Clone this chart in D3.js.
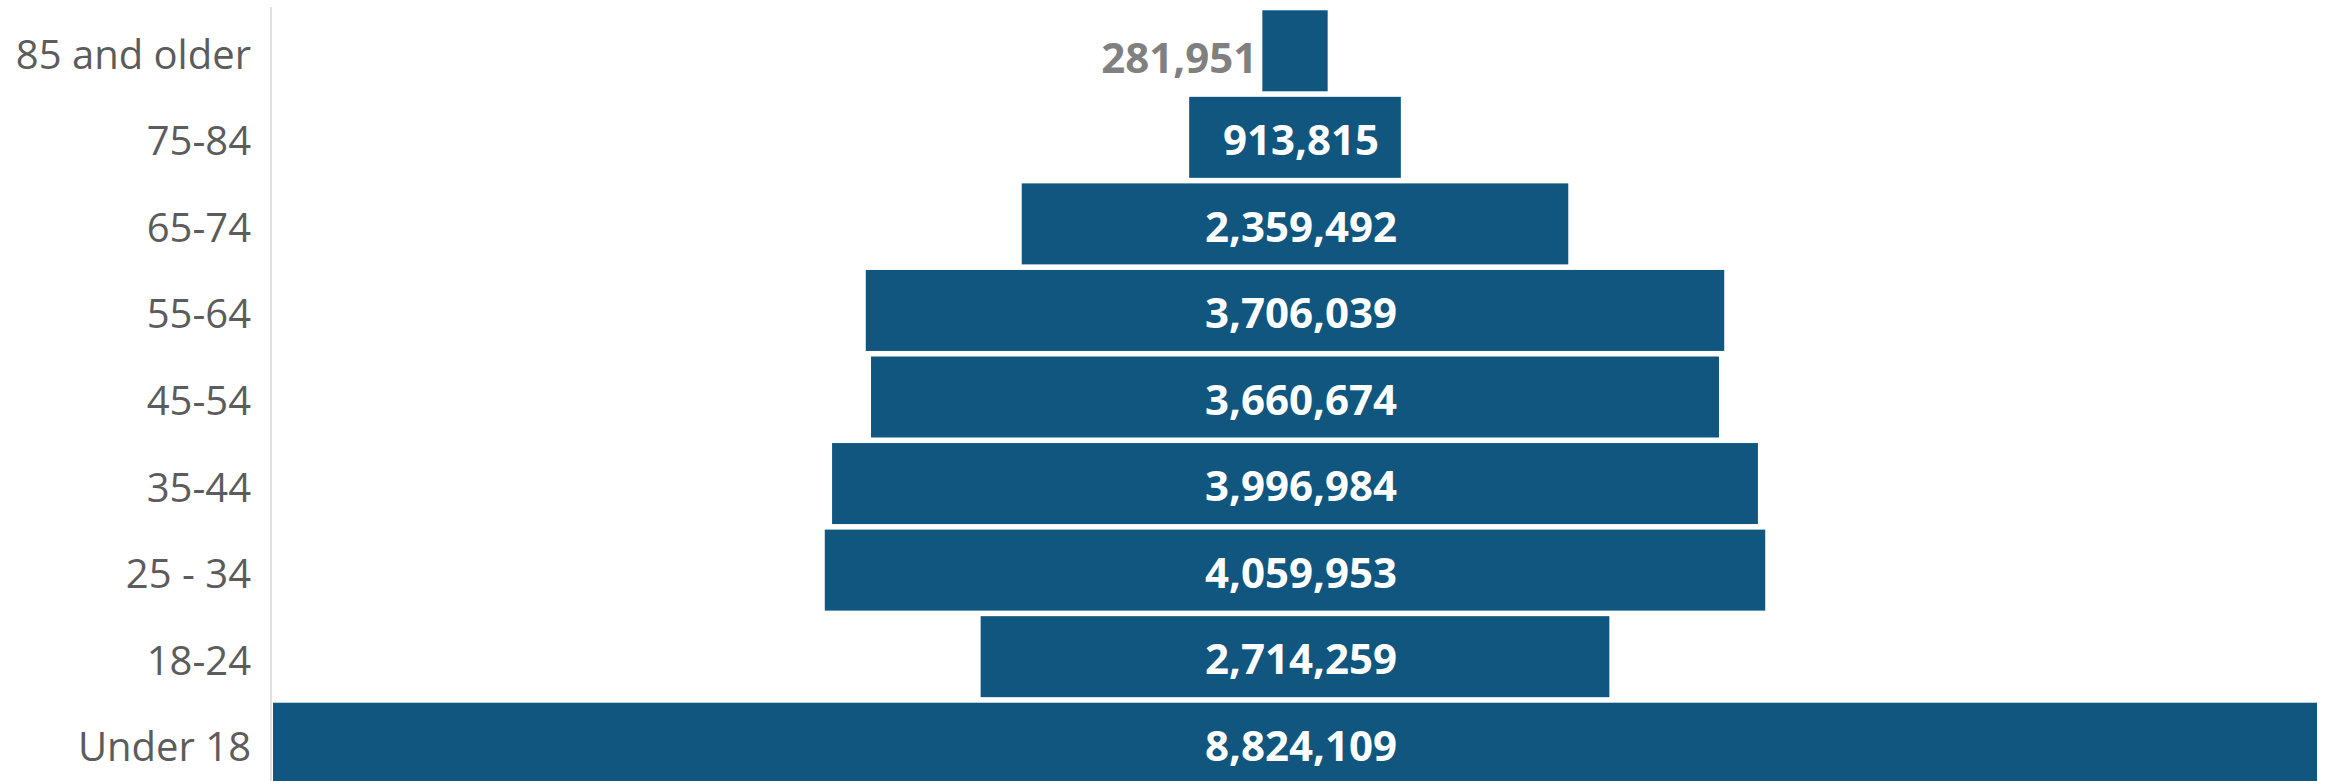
<!DOCTYPE html>
<html>
<head>
<meta charset="utf-8">
<script src="https://cdn.jsdelivr.net/npm/d3@7"></script>
<style>
  html, body { margin: 0; padding: 0; background: #ffffff; overflow: hidden; }
  svg { display: block; }
</style>
</head>
<body>
<svg id="chart" width="2328" height="781"></svg>
<script>
const categories = ["85 and older", "75-84", "65-74", "55-64", "45-54", "35-44", "25 - 34", "18-24", "Under 18"];
const values = [281951, 913815, 2359492, 3706039, 3660674, 3996984, 4059953, 2714259, 8824109];

const W = 2328, H = 781;
const plotLeft = 273, plotRight = 2317;
const plotW = plotRight - plotLeft;
const centerX = plotLeft + plotW / 2;
const barColor = "#10567f";

const svg = d3.select("#chart");

const y = d3.scaleBand()
  .domain(categories)
  .range([7.5, 786.5])
  .paddingInner(0.0642)
  .paddingOuter(0.0321);

const w = d3.scaleLinear()
  .domain([0, d3.max(values)])
  .range([0, plotW]);

const data = categories.map((c, i) => ({ cat: c, val: values[i] }));

// axis line
svg.append("line")
  .attr("x1", 271).attr("x2", 271)
  .attr("y1", 7).attr("y2", H)
  .attr("stroke", "#e1e1e1")
  .attr("stroke-width", 2);

// category labels via d3 axis
const yAxis = d3.axisLeft(y).tickSize(0).tickPadding(0);
const gAxis = svg.append("g")
  .attr("transform", "translate(251,0)")
  .call(yAxis);
gAxis.select(".domain").remove();
gAxis.selectAll("text")
  .attr("font-family", "'Open Sans', 'Noto Sans', sans-serif")
  .attr("font-size", 40)
  .attr("fill", "#5c5c5c")
  .attr("dy", "0.45em");

// bars
svg.append("g").selectAll("rect")
  .data(data)
  .join("rect")
  .attr("x", d => centerX - w(d.val) / 2)
  .attr("width", d => w(d.val))
  .attr("y", d => y(d.cat))
  .attr("height", y.bandwidth())
  .attr("fill", barColor);

// value labels
const fmt = d3.format(",");
const labels = svg.append("g").selectAll("text")
  .data(data)
  .join("text")
  .attr("font-family", "'Open Sans', 'Noto Sans', sans-serif")
  .attr("font-weight", 700)
  .attr("font-size", 42)
  .attr("y", d => y(d.cat) + y.bandwidth() / 2)
  .attr("dy", "0.42em")
  .text(d => fmt(d.val));

labels.each(function(d) {
  const t = d3.select(this);
  const tw = this.getComputedTextLength();
  const bw = w(d.val);
  if (tw + 16 < bw) {
    t.attr("x", centerX + 6).attr("text-anchor", "middle").attr("fill", "#ffffff");
  } else {
    t.attr("x", centerX - bw / 2 - 5).attr("text-anchor", "end").attr("fill", "#808080")
     .attr("dy", "0.52em");
  }
});
</script>
</body>
</html>
